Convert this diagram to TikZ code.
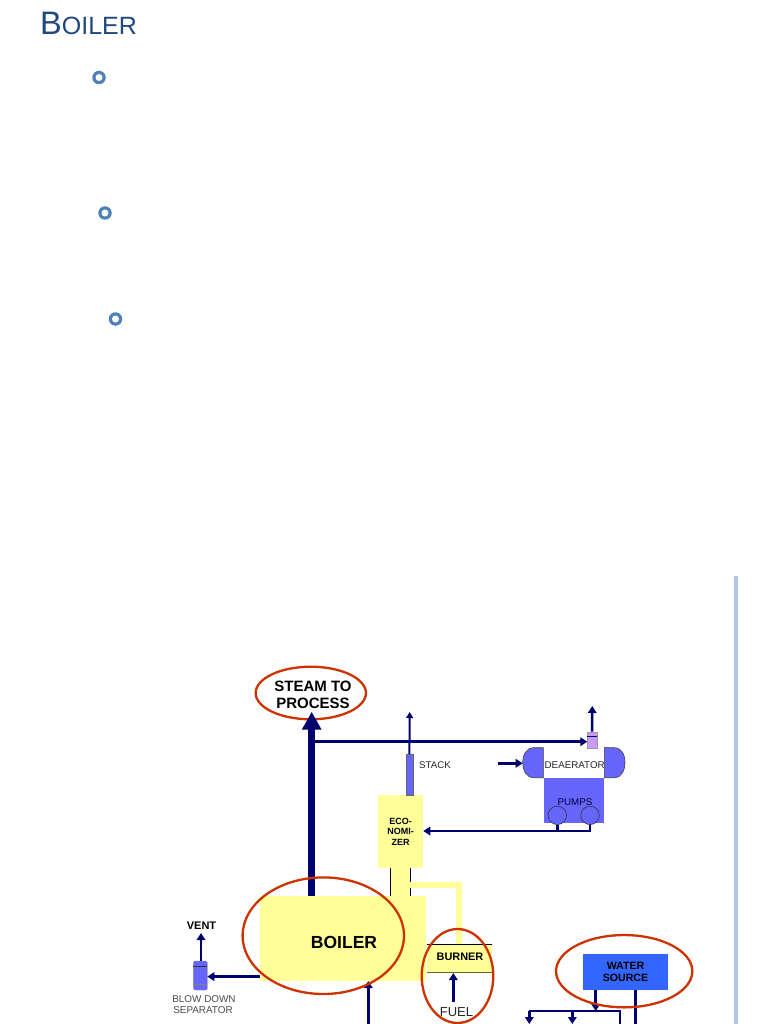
\documentclass[tikz,border=0pt]{standalone}
\usepackage{fontspec}
\setmainfont{Liberation Sans}
\usetikzlibrary{arrows.meta,shapes.geometric,calc}
\definecolor{navy}{HTML}{00006E}
\definecolor{ylw}{HTML}{FFFF99}
\definecolor{blu}{HTML}{6666FF}
\definecolor{wat}{HTML}{3366FF}
\definecolor{redo}{HTML}{CC3300}
\definecolor{ttl}{HTML}{1F497D}
\definecolor{ringc}{HTML}{4F81BD}
\definecolor{purp}{HTML}{CC99FF}
\definecolor{rulec}{HTML}{B4C6E7}
\tikzset{
  box/.style={rectangle,inner sep=0pt,outer sep=0pt,draw=none},
  flow/.style={draw=navy,line width=2.5pt,-{Triangle[length=7pt,width=8.5pt]}},
  pipe/.style={draw=navy,line width=2.5pt},
  halo/.style={ellipse,draw=redo,line width=2.3pt,inner sep=0pt,outer sep=0pt,fill=none},
  lbl/.style={inner sep=0pt,align=center,text=black!85,font=\fontsize{10}{12}\selectfont},
  blbl/.style={inner sep=0pt,align=center,text=black,font=\fontsize{10}{12}\selectfont\bfseries},
  ring/.style={circle,fill=ringc,minimum size=13.5pt,inner sep=0pt},
  ringhole/.style={circle,fill=white,minimum size=7pt,inner sep=0pt},
}
\begin{document}
\begin{tikzpicture}[x=1pt,y=-1pt]
\useasboundingbox (0,0) rectangle (768,1024);
\fill[white] (0,0) rectangle (768,1024);
% title
\node[inner sep=0pt,anchor=base west,text=ttl] (title) at (40,35) {\fontsize{32.5}{36}\selectfont B\fontsize{25}{30}\selectfont OILER};
\node[ring] (b1) at (99,77.5) {};
\node[ringhole] (b1h) at (99,77.5) {};
\node[ring] (b2) at (105,213) {};
\node[ringhole] (b2h) at (105,213) {};
\node[ring] (b3) at (115.5,319) {};
\node[ringhole] (b3h) at (115.5,319) {};
% page rule
\coordinate (ruletop) at (736,576);
\coordinate (rulebot) at (736,1024);
\draw[draw=rulec,line width=3.5pt] (ruletop) -- (rulebot);
% yellow plant
\node[box,fill=ylw,minimum width=19.5pt,minimum height=32pt] (neck) at (400.3,882) {};
\draw[black,line width=1pt] (390.7,866) -- (390.7,896) (410,866) -- (410,896);
\node[box,fill=ylw,minimum width=166pt,minimum height=85pt] (boiler) at (343,938.5) {};
\node[box,fill=ylw,minimum width=45.3pt,minimum height=72.7pt,font=\fontsize{9}{10.2}\selectfont\bfseries,align=center] (eco) at (400.6,831.8) {ECO-\\NOMI-\\ZER};
\draw[ylw,line width=6pt] (neck.east |- 0,884.5) -- (458.5,884.5) -- (458.5,945);
\node[box,fill=ylw,minimum width=65.3pt,minimum height=27.7pt] (burner) at (459.3,958.8) {};
\draw[black,line width=1pt] (burner.north west) -- (burner.north east);
\draw[olive!70!black,line width=.8pt] (burner.south west) -- (burner.south east);
\node[blbl,font=\fontsize{10.9}{12}\selectfont\bfseries] at (460,957) {BURNER};
\node[blbl,font=\fontsize{17.5}{19}\selectfont\bfseries] (boilertxt) at (344,942.5) {BOILER};
% stack
\node[box,fill=blu,draw=black!60,line width=.3pt,minimum width=7.4pt,minimum height=41pt] (stack) at (409.4,774.5) {};
\coordinate (stacktop) at (409.7,712);
\draw[flow,line width=2pt,-{Triangle[length=6pt,width=7pt]}] (stack.north) -- (stacktop);
\node[lbl,font=\fontsize{9.7}{11}\selectfont] (stacktxt) at (435,765) {STACK};
% steam
\node[inner sep=0pt,align=center,font=\fontsize{15}{16.7}\selectfont\bfseries] (steam) at (313,695) {STEAM TO\\PROCESS};
\node[halo,minimum width=110.3pt,minimum height=52.6pt] (steamring) at (310.8,693) {};
\coordinate (steambase) at (311.7,896);
\coordinate (steamtip) at (311.7,711.7);
\draw[navy,line width=7.2pt,-{Triangle[length=18pt,width=18.5pt,sep=0pt]}] (steambase) -- (steamtip);
% deaerator
\node[box,fill=blu,minimum width=60.6pt,minimum height=45.6pt] (pumps) at (574,800.5) {};
\draw[fill=blu,draw=black!75,line width=.6pt] (543.3,747.7) -- (534,747.7) .. controls (526,747.7) and (522.7,755) .. (522.7,762.7) .. controls (522.7,770) and (526,777.7) .. (534,777.7) -- (543.3,777.7) -- cycle;
\draw[fill=blu,draw=black!75,line width=.6pt] (604.3,747.7) -- (614,747.7) .. controls (622,747.7) and (625,755) .. (625,762.7) .. controls (625,770) and (622,777.7) .. (614,777.7) -- (604.3,777.7) -- cycle;
\node[lbl,font=\fontsize{9.8}{11}\selectfont] (deatxt) at (574.7,765) {DEAERATOR};
\node[lbl,font=\fontsize{9.8}{11}\selectfont,text=black!80!blue] (pumptxt) at (575,802) {PUMPS};
\node[circle,draw=black!80,line width=.6pt,fill=blu,minimum size=18.5pt,inner sep=0pt] (p1) at (557.3,815.3) {};
\node[circle,draw=black!80,line width=.6pt,fill=blu,minimum size=18.5pt,inner sep=0pt] (p2) at (590,815.3) {};
\coordinate (j1) at (557.3,831);
\coordinate (j2) at (590,831);
\draw[pipe] (p2.south) -- (j2) -- (j1);
\draw[pipe] (p1.south) -- (j1);
\draw[flow] (j1) -- (eco.east |- j1);
\coordinate (deain) at (498.3,763.3);
\draw[flow] (deain) -- (522.7,763.3);
% vent vessel
\node[box,fill=purp,draw=black!40,line width=.3pt,minimum width=9.4pt,minimum height=16.6pt] (vv) at (592,740) {};
\draw[navy,line width=.8pt] (vv.west |- 0,736) -- (vv.east |- 0,736);
\coordinate (vvtop) at (592.3,706);
\draw[flow] (vv.north) -- (vvtop);
\coordinate (branch) at (315,741.7);
\draw[flow] (branch) -- (vv.west |- branch);
% blow down
\node[box,fill=blu,draw=black!50,line width=.3pt,rounded corners=1.5pt,minimum width=14pt,minimum height=29pt] (sep) at (200.3,975.5) {};
\draw[black!80,line width=.6pt] (sep.west |- 0,966) -- (sep.east |- 0,966);
\draw[black!50,line width=.5pt] (sep.west |- 0,984) -- (sep.east |- 0,984);
\node[blbl,font=\fontsize{11}{12}\selectfont\bfseries] (vent) at (201.5,925.5) {VENT};
\coordinate (venttip) at (201,933);
\draw[flow] (sep.north -| venttip) -- (venttip);
\coordinate (blowa) at (260,976.6);
\draw[flow] (blowa) -- (sep.east |- blowa);
\node[lbl,font=\fontsize{9.9}{11}\selectfont,text=black!70] (sepA) at (204,999.5) {BLOW DOWN};
\node[lbl,font=\fontsize{9.9}{11}\selectfont,text=black!70] (sepB) at (203,1010.5) {SEPARATOR};
% boiler feed
\coordinate (feed) at (368.3,1026);
\draw[flow] (feed) -- (368.3,981);
% fuel
\node[lbl,font=\fontsize{13}{15}\selectfont] (fuel) at (456.5,1012) {FUEL};
\draw[flow] (453.3,1001.7) -- (453.3,973);
% water
\node[box,fill=wat,minimum width=84.4pt,minimum height=36pt,align=center,font=\fontsize{10.6}{12}\selectfont\bfseries] (water) at (625.5,972) {WATER\\SOURCE};
\coordinate (w1) at (595.7,1011);
\draw[flow] (water.south -| w1) -- (w1);
\coordinate (w2) at (635.7,1026);
\draw[pipe] (water.south -| w2) -- (w2);
\coordinate (hl) at (529.3,1011);
\coordinate (hr) at (620,1011);
\draw[pipe] (hl) -- (hr) -- (620,1026);
\draw[flow] (hl) -- (529.3,1024);
\draw[flow] (572.3,1011) -- (572.3,1024);
% red rings
\node[halo,minimum width=161.4pt,minimum height=116.6pt] (boilerring) at (323.3,935.7) {};
\node[halo,minimum width=71.6pt,minimum height=94pt] (burnerring) at (457.5,976) {};
\node[halo,minimum width=136.3pt,minimum height=72.3pt] (waterring) at (624.2,971.2) {};
\end{tikzpicture}
\end{document}
